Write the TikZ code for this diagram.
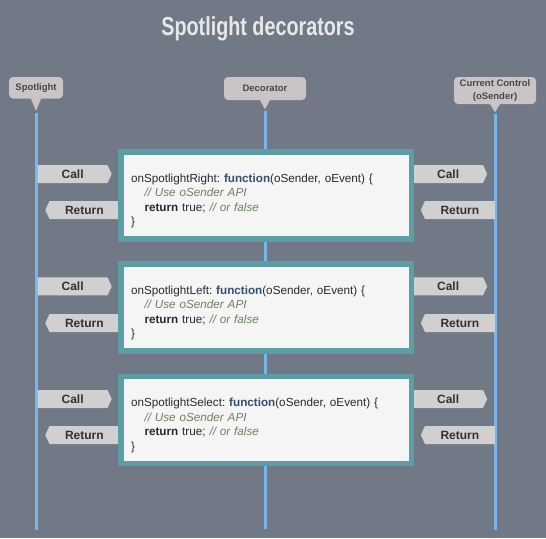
\documentclass[tikz,border=0pt]{standalone}
\usepackage{fontspec}
\setmainfont{Liberation Sans}
\usetikzlibrary{shapes.symbols}
\definecolor{cbg}{HTML}{707985}
\definecolor{ctitle}{HTML}{E8E8E8}
\definecolor{cactor}{HTML}{CAC4C6}
\definecolor{cactortext}{HTML}{474747}
\definecolor{clifeline}{HTML}{78B6EA}
\definecolor{cboxedge}{HTML}{5C9EA5}
\definecolor{cboxfill}{HTML}{F5F5F5}
\definecolor{cmsg}{HTML}{D0D0D0}
\definecolor{cmsgtext}{HTML}{333333}
\definecolor{ctext}{HTML}{2A2A2A}
\definecolor{cfunction}{HTML}{34506E}
\definecolor{ccomment}{HTML}{6E7F5E}
\newcommand{\fnword}[1]{{\color{cfunction}\bfseries #1}}
\newcommand{\codecmt}[1]{{\color{ccomment}\itshape #1}}
\newcommand{\codeind}{\hspace*{13.5pt}}
\newcommand{\codefirst}{\rule{0pt}{19pt}}

\begin{document}
\begin{tikzpicture}[
  x=1pt, y=-1pt,
  title/.style={
    text=ctitle, font=\fontsize{26}{30}\selectfont\bfseries
  },
  actor/.style={
    rectangle, fill=cactor, rounded corners=4pt,
    inner sep=0pt, align=center,
    text=cactortext, font=\fontsize{9.5}{12.5}\selectfont\bfseries
  },
  tip/.style={fill=cactor},
  lifeline/.style={draw=clifeline, line width=3pt, shorten <=2pt},
  code/.style={
    draw=cboxedge, fill=cboxfill, line width=5.5pt,
    minimum width=290.5pt, minimum height=87pt,
    text width=270pt, inner xsep=10pt, inner ysep=0pt, align=left,
    text=ctext, font=\fontsize{11.7}{14.5}\selectfont\frenchspacing
  },
  msg/.style={
    signal, signal pointer angle=130, fill=cmsg, text=cmsgtext,
    minimum width=74pt, minimum height=18pt, inner sep=0pt,
    font=\fontsize{12}{14}\selectfont\bfseries
  },
  call/.style={msg, signal to=east, signal from=nowhere},
  ret/.style={msg, signal to=west, signal from=nowhere},
]
  \fill[cbg] (0,0) rectangle (546,538);

  \node[title] (heading) at (258,29) {\scalebox{0.76}[1]{Spotlight decorators}};

  % actors
  \node[actor, minimum width=54pt, minimum height=21.5pt] (spotlight) at (36,87.75) {Spotlight};
  \node[actor, minimum width=82pt, minimum height=23pt] (decorator) at (265,88.5) {Decorator};
  \node[actor, minimum width=82pt, minimum height=27pt] (control) at (495,90.5) {Current Control\\(oSender)};
  \coordinate (spotlight-tip) at ([yshift=-12pt]spotlight.south);
  \coordinate (decorator-tip) at ([yshift=-9pt]decorator.south);
  \coordinate (control-tip)   at ([yshift=-8pt]control.south);
  \fill[tip] ([xshift=-5.5pt,yshift=1pt]spotlight.south) -- ([xshift=5.5pt,yshift=1pt]spotlight.south) -- (spotlight-tip) -- cycle;
  \fill[tip] ([xshift=-5.5pt,yshift=1pt]decorator.south) -- ([xshift=5.5pt,yshift=1pt]decorator.south) -- (decorator-tip) -- cycle;
  \fill[tip] ([xshift=-5.5pt,yshift=1pt]control.south) -- ([xshift=5.5pt,yshift=1pt]control.south) -- (control-tip) -- cycle;

  \coordinate (spotlight-end) at (36,530);
  \coordinate (decorator-end) at (265,528.5);
  \coordinate (control-end)   at (495,530);
  \draw[lifeline] (spotlight-tip) -- (spotlight-end);
  \draw[lifeline] (decorator-tip) -- (decorator-end);
  \draw[lifeline] (control-tip) -- (control-end);

  % messages
  \node[call, anchor=west] (callR-in)  at (37.5,174)  {Call};
  \node[ret,  anchor=east] (retR-out)  at (119.5,210) {Return};
  \node[call, anchor=west] (callR-out) at (413,174)   {Call};
  \node[ret,  anchor=east] (retR-in)   at (495,210)   {Return};

  \node[call, anchor=west] (callL-in)  at (37.5,286.3)  {Call};
  \node[ret,  anchor=east] (retL-out)  at (119.5,323)   {Return};
  \node[call, anchor=west] (callL-out) at (413,286.3)   {Call};
  \node[ret,  anchor=east] (retL-in)   at (495,323)     {Return};

  \node[call, anchor=west] (callS-in)  at (37.5,399)  {Call};
  \node[ret,  anchor=east] (retS-out)  at (119.5,435) {Return};
  \node[call, anchor=west] (callS-out) at (413,399)   {Call};
  \node[ret,  anchor=east] (retS-in)   at (495,435)   {Return};

  % decorator functions
  \node[code] (onright) at (266,195.5) {%
    \codefirst onSpotlightRight: \fnword{function}(oSender, oEvent) \{\\
    \codeind\codecmt{// Use oSender API}\\
    \codeind\textbf{return} true; \codecmt{// or false}\\
    \}};
  \node[code] (onleft) at (266,307.5) {%
    \codefirst onSpotlightLeft: \fnword{function}(oSender, oEvent) \{\\
    \codeind\codecmt{// Use oSender API}\\
    \codeind\textbf{return} true; \codecmt{// or false}\\
    \}};
  \node[code] (onselect) at (266,420) {%
    \codefirst onSpotlightSelect: \fnword{function}(oSender, oEvent) \{\\
    \codeind\codecmt{// Use oSender API}\\
    \codeind\textbf{return} true; \codecmt{// or false}\\
    \}};
\end{tikzpicture}
\end{document}
